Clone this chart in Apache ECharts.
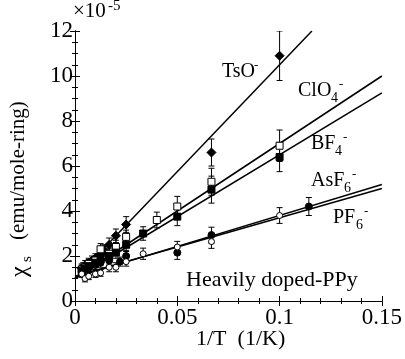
<!DOCTYPE html>
<html><head><meta charset="utf-8">
<script src="https://cdn.jsdelivr.net/npm/echarts@6/dist/echarts.min.js"></script>
<style>html,body{margin:0;padding:0;background:#fff}#c{width:405px;height:359px}</style>
</head><body><div id="c"></div>
<script>
// ---- data (y in units of 1e-5 emu/mole-ring) ----
const xTickLabels = ['0', '0.05', '0.1', '0.15'];
const yTickLabels = ['0', '2', '4', '6', '8', '10', '12'];

const tsoX = [0.0033, 0.004, 0.005, 0.0067, 0.0083, 0.01, 0.0125, 0.0143, 0.0167, 0.02, 0.025, 0.0667, 0.1];
const tsoY = [1.45, 1.5, 1.6, 1.7, 1.8, 1.9, 2.1, 2.25, 2.5, 2.9, 3.4, 6.6, 10.9];
const tsoE = [0.2, 0.2, 0.2, 0.2, 0.2, 0.2, 0.25, 0.25, 0.3, 0.3, 0.35, 0.6, 1.1];

const clo4X = [0.0033, 0.005, 0.0067, 0.01, 0.0125, 0.0167, 0.02, 0.025, 0.04, 0.05, 0.0667, 0.1];
const clo4Y = [1.4, 1.5, 1.65, 1.8, 2.3, 2.1, 2.4, 2.85, 3.6, 4.2, 5.3, 6.9];
const clo4E = [0.2, 0.2, 0.2, 0.2, 0.25, 0.25, 0.3, 0.3, 0.35, 0.45, 0.6, 0.7];

const bf4X = [0.0033, 0.005, 0.0067, 0.01, 0.0125, 0.0167, 0.02, 0.025, 0.0333, 0.05, 0.0667, 0.1];
const bf4Y = [1.35, 1.45, 1.55, 1.7, 1.85, 2.0, 2.15, 2.5, 3.0, 3.75, 4.95, 6.4];
const bf4E = [0.2, 0.2, 0.2, 0.2, 0.2, 0.25, 0.25, 0.3, 0.3, 0.4, 0.6, 0.65];

const asf6X = [0.0033, 0.005, 0.0067, 0.01, 0.0125, 0.0167, 0.022, 0.025, 0.05, 0.0667, 0.1143];
const asf6Y = [1.3, 1.4, 1.5, 1.6, 1.7, 1.8, 1.75, 2.0, 2.15, 2.93, 4.2];
const asf6E = [0.2, 0.2, 0.2, 0.2, 0.2, 0.2, 0.2, 0.25, 0.3, 0.35, 0.4];

const pf6X = [0.0033, 0.0049, 0.0067, 0.01, 0.0125, 0.0167, 0.02, 0.025, 0.0333, 0.05, 0.0667, 0.1];
const pf6Y = [1.2, 1.0, 1.1, 1.2, 1.25, 1.5, 1.5, 1.75, 2.1, 2.4, 2.64, 3.8];
const pf6E = [0.15, 0.15, 0.15, 0.15, 0.15, 0.2, 0.2, 0.2, 0.25, 0.25, 0.3, 0.35];

// fitted lines (end points)
const tsoFit = [[0, 1.0], [0.1158, 12]];
const clo4Fit = [[0, 1.0], [0.15, 10.0]];
const bf4Fit = [[0, 1.0], [0.15, 9.25]];
const asf6Fit = [[0, 1.05], [0.15, 5.18]];
const pf6Fit = [[0, 1.1], [0.15, 5.0]];

// ---- chart ----
const F = 'Liberation Serif';
const chart = echarts.init(document.getElementById('c'));

function pairs(xs, ys) { return xs.map((x, i) => [x, ys[i]]); }
function errSeries(xs, ys, es) {
  return {
    type: 'custom', clip: true, z: 2,
    data: xs.map((x, i) => [x, Math.max(0, ys[i] - es[i]), Math.min(12, ys[i] + es[i])]),
    renderItem(params, api) {
      const x = api.value(0);
      const p1 = api.coord([x, api.value(1)]);
      const p2 = api.coord([x, api.value(2)]);
      const w = 3;
      const st = { stroke: '#000', lineWidth: 1 };
      return {
        type: 'group', children: [
          { type: 'line', shape: { x1: p1[0], y1: p1[1], x2: p2[0], y2: p2[1] }, style: st },
          { type: 'line', shape: { x1: p1[0] - w, y1: p1[1], x2: p1[0] + w, y2: p1[1] }, style: st },
          { type: 'line', shape: { x1: p2[0] - w, y1: p2[1], x2: p2[0] + w, y2: p2[1] }, style: st }
        ]
      };
    }
  };
}
function fitSeries(d) {
  return { type: 'line', data: d, symbol: 'none', clip: true, z: 3,
    lineStyle: { color: '#000', width: 1.5 }, silent: true };
}
function scat(xs, ys, symbol, size, filled) {
  return { type: 'scatter', data: pairs(xs, ys), symbol, symbolSize: size, z: 4,
    itemStyle: { color: filled ? '#000' : '#fff', borderColor: '#000', borderWidth: 1, opacity: 1 } };
}

const axisCommon = {
  axisLine: { show: true, lineStyle: { color: '#000', width: 1 } },
  axisTick: { show: true, inside: true, length: 5, lineStyle: { color: '#000' } },
  minorTick: { show: true, length: 3, lineStyle: { color: '#000' } },
  splitLine: { show: false }, minorSplitLine: { show: false }
};

const option = {
  animation: false,
  backgroundColor: '#fff',
  grid: { left: 75, right: 22, top: 31, bottom: 58 },
  xAxis: [
    Object.assign({}, axisCommon, { type: 'value', min: 0, max: 0.15, interval: 0.05, position: 'bottom',
      minorTick: Object.assign({}, axisCommon.minorTick, { splitNumber: 5 }),
      axisLabel: { fontFamily: F, fontSize: 23, color: '#000', margin: 5,
        formatter: v => xTickLabels[Math.round(v / 0.05)] } }),
    Object.assign({}, axisCommon, { type: 'value', min: 0, max: 0.15, interval: 0.05, position: 'top',
      minorTick: Object.assign({}, axisCommon.minorTick, { splitNumber: 5 }),
      axisLabel: { show: false } })
  ],
  yAxis: [
    Object.assign({}, axisCommon, { type: 'value', min: 0, max: 12, interval: 2, position: 'left',
      minorTick: Object.assign({}, axisCommon.minorTick, { splitNumber: 4 }),
      axisLabel: { fontFamily: F, fontSize: 23, color: '#000', margin: 2,
        formatter: v => yTickLabels[Math.round(v / 2)] } }),
    Object.assign({}, axisCommon, { type: 'value', min: 0, max: 12, interval: 2, position: 'right',
      minorTick: Object.assign({}, axisCommon.minorTick, { splitNumber: 4 }),
      axisLabel: { show: false } })
  ],
  series: [
    fitSeries(tsoFit), fitSeries(clo4Fit), fitSeries(bf4Fit), fitSeries(asf6Fit), fitSeries(pf6Fit),
    errSeries(tsoX, tsoY, tsoE), errSeries(clo4X, clo4Y, clo4E), errSeries(bf4X, bf4Y, bf4E),
    errSeries(asf6X, asf6Y, asf6E), errSeries(pf6X, pf6Y, pf6E),
    scat(tsoX, tsoY, 'diamond', 9, true),
    scat(clo4X, clo4Y, 'rect', 7, false),
    scat(bf4X, bf4Y, 'rect', 7, true),
    scat(asf6X, asf6Y, 'circle', 7, true),
    scat(pf6X, pf6Y, 'circle', 6, false)
  ],
  graphic: [
    { type: 'text', x: 73, y: 1, style: { text: '×10', font: '21px "Liberation Serif"', fill: '#000' } },
    { type: 'text', x: 108, y: -1, style: { text: '-5', font: '15px "Liberation Serif"', fill: '#000' } },
    { type: 'text', x: 222, y: 62, style: { text: 'TsO', font: '20px "Liberation Serif"', fill: '#000' } },
    { type: 'text', x: 254, y: 59, style: { text: '-', font: '13px "Liberation Serif"', fill: '#000' } },
    { type: 'text', x: 298, y: 81, style: { text: 'ClO', font: '20px "Liberation Serif"', fill: '#000' } },
    { type: 'text', x: 331, y: 91, style: { text: '4', font: '14px "Liberation Serif"', fill: '#000' } },
    { type: 'text', x: 339, y: 78, style: { text: '-', font: '13px "Liberation Serif"', fill: '#000' } },
    { type: 'text', x: 311, y: 134, style: { text: 'BF', font: '20px "Liberation Serif"', fill: '#000' } },
    { type: 'text', x: 335, y: 144, style: { text: '4', font: '14px "Liberation Serif"', fill: '#000' } },
    { type: 'text', x: 343, y: 131, style: { text: '-', font: '13px "Liberation Serif"', fill: '#000' } },
    { type: 'text', x: 311, y: 171, style: { text: 'AsF', font: '20px "Liberation Serif"', fill: '#000' } },
    { type: 'text', x: 344, y: 181, style: { text: '6', font: '14px "Liberation Serif"', fill: '#000' } },
    { type: 'text', x: 352, y: 168, style: { text: '-', font: '13px "Liberation Serif"', fill: '#000' } },
    { type: 'text', x: 333, y: 208, style: { text: 'PF', font: '20px "Liberation Serif"', fill: '#000' } },
    { type: 'text', x: 356, y: 218, style: { text: '6', font: '14px "Liberation Serif"', fill: '#000' } },
    { type: 'text', x: 364, y: 205, style: { text: '-', font: '13px "Liberation Serif"', fill: '#000' } },
    { type: 'text', x: 186, y: 269, style: { text: 'Heavily doped-PPy', font: '22px "Liberation Serif"', fill: '#000' } },
    { type: 'text', x: 196, y: 328, style: { text: '1/T  (1/K)', font: '22px "Liberation Serif"', fill: '#000' } },
    { type: 'text', rotation: Math.PI / 2, x: 8, y: 277, style: { text: 'χ', font: '24px "Liberation Serif"', fill: '#000' } },
    { type: 'text', rotation: Math.PI / 2, x: 20, y: 262, style: { text: 's', font: '15px "Liberation Serif"', fill: '#000' } },
    { type: 'text', rotation: Math.PI / 2, x: 8, y: 240, style: { text: '(emu/mole-ring)', font: '21px "Liberation Serif"', fill: '#000' } }
  ]
};
chart.setOption(option);
</script>
</body></html>
